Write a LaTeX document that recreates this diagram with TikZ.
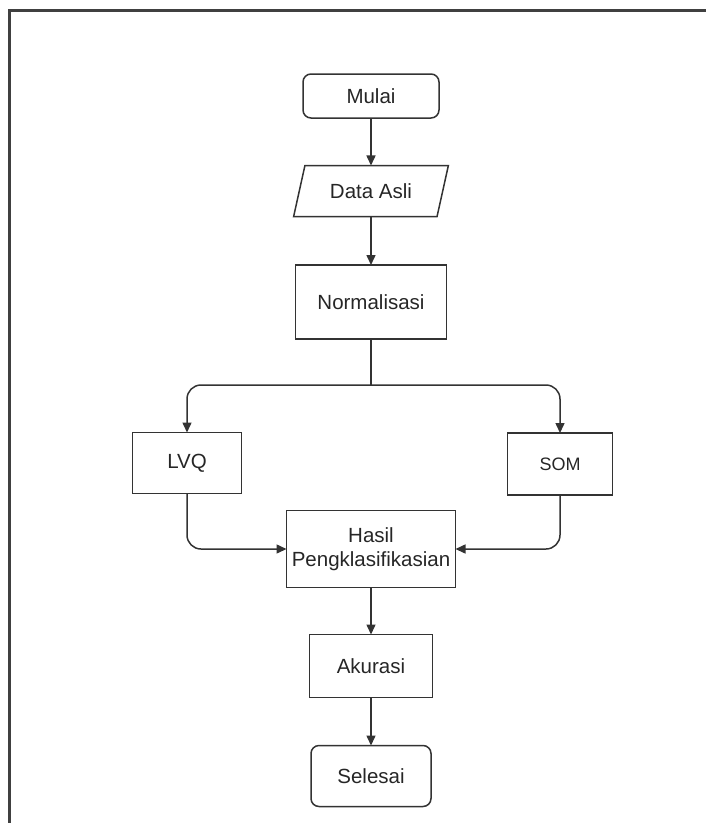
\documentclass[tikz,border=0pt]{standalone}
\usepackage{fontspec}
\setmainfont{Liberation Sans}
\usetikzlibrary{arrows.meta,shapes.geometric}

\tikzset{
  flowbox/.style={rectangle, draw=black!80, line width=1.5pt, align=center,
    text=black!85, font=\fontsize{20.5}{24}\selectfont},
  termbox/.style={flowbox, rounded corners=8pt},
  databox/.style={flowbox, trapezium, trapezium left angle=65,
    trapezium right angle=115, trapezium stretches=true},
  flowline/.style={draw=black!80, line width=1.5pt,
    -{Triangle[length=10pt,width=9pt]}, rounded corners=14pt}
}

\begin{document}
\begin{tikzpicture}[x=1pt, y=-1pt, inner sep=0, outer sep=0]
  \useasboundingbox (0, 0) rectangle (706, 823);
% frame
  \draw[line width=3pt, black!75] (9.5, 823) -- (9.5, 10.5) -- (706, 10.5);

% boxes
  \node[termbox, minimum width=136pt, minimum height=44pt] (mulai) at (371, 96) {Mulai};
  \node[databox, minimum width=155pt, minimum height=51pt] (data) at (371, 191) {Data Asli};
  \node[flowbox, minimum width=151pt, minimum height=74pt] (norm) at (371, 302) {Normalisasi};
  \node[flowbox, minimum width=109pt, minimum height=61pt] (lvq) at (187, 463) {LVQ};
  \node[flowbox, minimum width=105pt, minimum height=62pt,
    font=\fontsize{18}{21}\selectfont] (som) at (560, 464) {SOM};
  \node[flowbox, minimum width=169pt, minimum height=77pt] (hasil) at (371, 549) {Hasil\\Pengklasifikasian};
  \node[flowbox, minimum width=123pt, minimum height=63pt] (akurasi) at (371, 666) {Akurasi};
  \node[termbox, minimum width=120pt, minimum height=61pt] (selesai) at (371, 776) {Selesai};

  \coordinate (split) at (371, 385);

% connectors
  \draw[flowline] (mulai) -- (data);
  \draw[flowline] (data) -- (norm);
  \draw[flowline, -] (norm) -- (split);
  \draw[flowline] (split) -| (lvq);
  \draw[flowline] (split) -| (som);
  \draw[flowline] (lvq) |- (hasil);
  \draw[flowline] (som) |- (hasil);
  \draw[flowline] (hasil) -- (akurasi);
  \draw[flowline] (akurasi) -- (selesai);
\end{tikzpicture}
\end{document}
